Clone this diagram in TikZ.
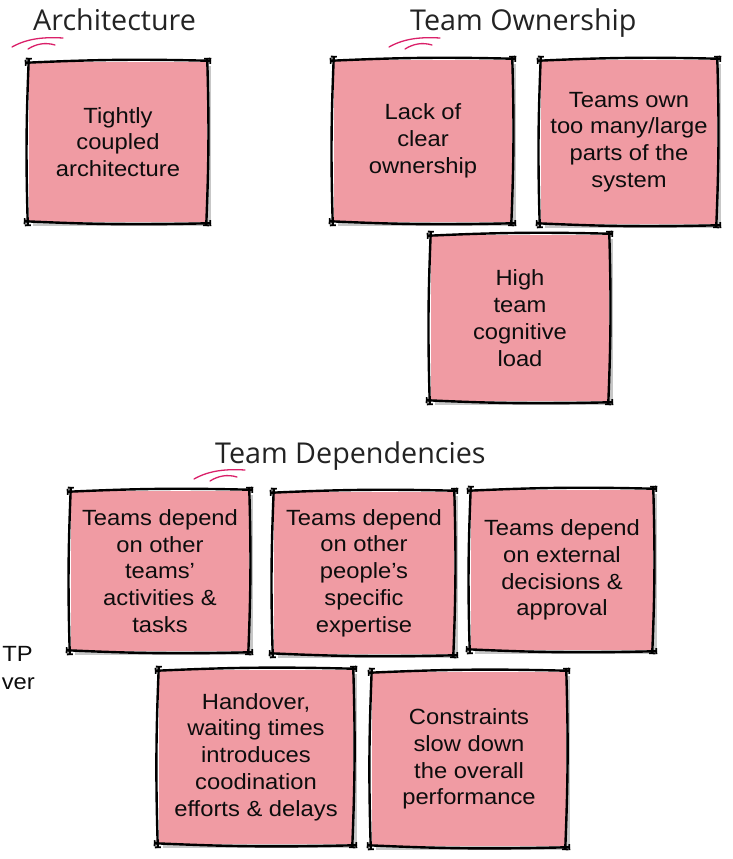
\documentclass[tikz,border=0pt]{standalone}
\usepackage{fontspec}
\setmainfont{Liberation Sans}
\newfontfamily\notefont[FakeStretch=1.08]{Liberation Sans}
\newfontfamily\titlefont{Open Sans}
\usetikzlibrary{calc,shadows,arrows.meta}
\definecolor{notec}{RGB}{240,155,163}
\definecolor{swooshc}{RGB}{218,32,105}
\definecolor{titlec}{RGB}{35,35,35}
\newcommand\sketchframe[1]{%
  \draw[pen] ($(#1.north west)+(-4,1)$) to[bend left=2] ($(#1.north east)+(4,-1)$);
  \draw[pen] ($(#1.north east)+(0,-4)$) to[bend left=2] ($(#1.south east)+(-1,4)$);
  \draw[pen] ($(#1.south east)+(4,1)$) to[bend left=2] ($(#1.south west)+(-5,-1)$);
  \draw[pen] ($(#1.south west)+(-1,4)$) to[bend left=2] ($(#1.north west)+(0,-4)$);
}
\newcommand\swoosh[1]{%
  \draw[swoosh] ($(#1.base west)+(-21,16)$) .. controls ($(#1.base west)+(-5,7)$) and ($(#1.base west)+(12,6)$) .. ($(#1.base west)+(30,7)$);
  \draw[swoosh] ($(#1.base west)+(-5,18)$) .. controls ($(#1.base west)+(3,13)$) and ($(#1.base west)+(12,11)$) .. ($(#1.base west)+(22,14)$);
}
\begin{document}
\begin{tikzpicture}[x=1pt,y=-1pt,
  note/.style={fill=notec, inner sep=0pt, align=center, text=black!95,
    font=\notefont\fontsize{22}{26.8}\selectfont,
    drop shadow={shadow xshift=4pt, shadow yshift=-4pt, fill=black!22, opacity=1}},
  pen/.style={line width=2.4pt, black, line cap=round, {Bar[width=6pt,line width=1.8pt]}-{Bar[width=6pt,line width=1.8pt]}},
  title/.style={font=\titlefont\fontsize{28.7}{32}\selectfont, text=titlec, inner sep=0pt, anchor=base west},
  swoosh/.style={line width=1.3pt, swooshc, line cap=round},
  cut/.style={font=\notefont\fontsize{22}{26.8}\selectfont, text=black!95, inner sep=0pt, anchor=base east}]
\useasboundingbox (0,0) rectangle (733,859);

% titles
\node[title] (tarch) at (33,31) {Architecture};
\node[title] (town) at (410,31) {Team Ownership};
\node[title] (tdep) at (215,463) {Team Dependencies};
\swoosh{tarch}
\swoosh{town}
\swoosh{tdep}

% notes
\node[note, minimum width=178pt, minimum height=160pt] (n1) at (118,142) {Tightly\\coupled\\architecture};
\node[note, minimum width=178pt, minimum height=162pt] (n2) at (423,141) {Lack of\\clear\\ownership};
\node[note, minimum width=176pt, minimum height=164pt] (n3) at (629,142) {Teams own\\too many/large\\parts of the\\system};
\node[note, minimum width=178pt, minimum height=166pt] (n4) at (520,318) {High\\team\\cognitive\\load};
\node[note, minimum width=178pt, minimum height=160pt] (n5) at (160,571) {Teams depend\\on other\\teams’\\activities \&\\tasks};
\node[note, minimum width=180pt, minimum height=162pt] (n6) at (364,573) {Teams depend\\on other\\people’s\\specific\\expertise};
\node[note, minimum width=182pt, minimum height=160pt] (n7) at (562,570) {Teams depend\\on external\\decisions \&\\approval};
\node[note, minimum width=194pt, minimum height=174pt] (n8) at (256,757) {Handover,\\waiting times\\introduces\\coodination\\efforts \& delays};
\node[note, minimum width=194pt, minimum height=174pt] (n9) at (469,759) {Constraints\\slow down\\the overall\\performance};

\foreach \n in {n1,n2,n3,n4,n5,n6,n7,n8,n9} {\sketchframe{\n}}

% cut-off texts at the left edge
\node[cut] (c1) at (33,661) {TP};
\node[cut] (c2) at (35,689) {ver};
\end{tikzpicture}
\end{document}
